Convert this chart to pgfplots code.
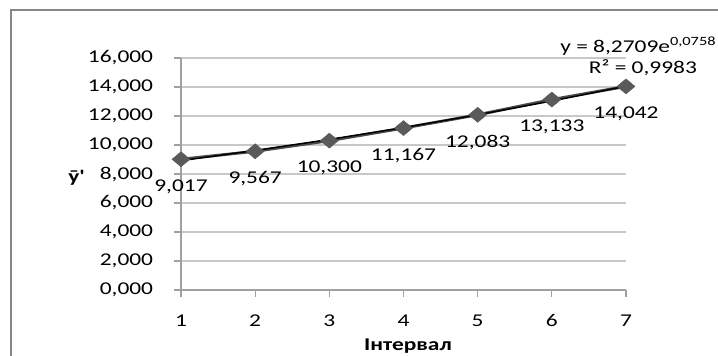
\documentclass[border=0pt]{standalone}
\usepackage{fontspec}
\setmainfont{Carlito}[FakeStretch=1.3]
\usepackage{pgfplots}
\pgfplotsset{compat=1.18}
\definecolor{gridc}{HTML}{C8C8C8}
\definecolor{axisc}{HTML}{A0A0A0}
\definecolor{datac}{HTML}{4A4A4A}
\definecolor{markc}{HTML}{5A5A5A}
\definecolor{framec}{HTML}{878787}
\begin{document}
\begin{tikzpicture}[font=\fontsize{13.5}{15}\selectfont]
\path[use as bounding box] (0,0) rectangle (538.5pt,266.25pt);
\draw[framec, line width=1.6pt] (8.25pt,-2pt) -- (8.25pt,258.75pt) -- (541pt,258.75pt);
\begin{axis}[
  at={(135.75pt,48.75pt)}, anchor=south west,
  scale only axis, width=333.75pt, height=174pt,
  xmin=1, xmax=7, ymin=0, ymax=16,
  xtick={1,2,3,4,5,6,7},
  ytick={0,2,4,6,8,10,12,14,16},
  axis x line*=bottom, axis y line*=left,
  axis line style={axisc, line width=0.8pt, -},
  ymajorgrids, grid style={gridc, line width=0.8pt},
  tick align=outside, major tick length=5pt,
  tick style={axisc, line width=0.8pt},
  /pgf/number format/assume math mode=true,
  yticklabel={\pgfmathprintnumber[fixed,fixed zerofill,precision=3,use comma]{\tick}},
  yticklabel style={anchor=east, inner sep=0pt, xshift=-15.75pt},
  xticklabel style={anchor=center, inner sep=0pt, yshift=-18pt},
  xlabel={\bfseries Інтервал},
  xlabel style={at={(rel axis cs:0.51,-0.241)}, anchor=center},
  ylabel={\bfseries \=y\textquotesingle},
  ylabel style={at={(rel axis cs:-0.236,0.483)}, anchor=center, rotate=-90},
  clip=false,
]
\addplot[datac, line width=2.2pt] coordinates {
 (1,9.017) (2,9.567) (3,10.300) (4,11.167) (5,12.083) (6,13.133) (7,14.042)};
\addplot[black, line width=1.1pt] coordinates {
 (1,8.9222) (2,9.6249) (3,10.3827) (4,11.2003) (5,12.0822) (6,13.0339) (7,14.0600)};
\addplot[only marks, mark=diamond*, mark size=5.6pt,
  mark options={fill=markc, draw=markc, xscale=1.6},
  nodes near coords={\pgfmathprintnumber[fixed,fixed zerofill,precision=3,use comma]{\pgfplotspointmeta}},
  every node near coord/.append style={anchor=center, yshift=-20.5pt, black, font=\fontsize{13.5}{15}\selectfont}]
 coordinates {
 (1,9.017) (2,9.567) (3,10.300) (4,11.167) (5,12.083) (6,13.133) (7,14.042)};
\node[anchor=east, inner sep=0pt] at (rel axis cs:1.2035,1.052) {y = 8,2709e\textsuperscript{0,0758}};
\node[anchor=center, inner sep=0pt] at (rel axis cs:1.038,0.957) {R² = 0,9983};
\end{axis}
\end{tikzpicture}
\end{document}
